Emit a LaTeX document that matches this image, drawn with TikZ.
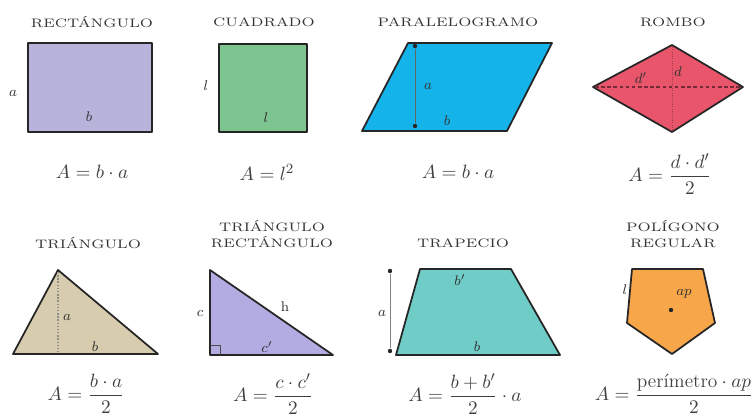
\documentclass[tikz,border=0pt]{standalone}
\usepackage{amsmath}
\usepackage{graphicx}
\definecolor{lila}{HTML}{B8B3DB}
\definecolor{verde}{HTML}{7CC590}
\definecolor{celeste}{HTML}{14B3EA}
\definecolor{rosa}{HTML}{E9566B}
\definecolor{beige}{HTML}{D8CCAE}
\definecolor{lila2}{HTML}{B3ACE3}
\definecolor{turquesa}{HTML}{70CCC7}
\definecolor{naranja}{HTML}{F7A64A}
\newcommand{\tit}[1]{\scalebox{1.22}[1]{#1}}

\begin{document}
\begin{tikzpicture}[x=0.02cm,y=-0.02cm,
  figura/.style={draw=black!85, line width=1pt, line join=round},
  titulo/.style={font=\fontsize{7}{9.5}\selectfont, text=black!80, align=center},
  formula/.style={font=\fontsize{11}{13}\selectfont, text=black!75},
  etiq/.style={font=\fontsize{8}{9}\selectfont, text=black!80, inner sep=1pt},
  punto/.style={circle, fill=black!85, inner sep=0pt, minimum size=2.5pt}]
\useasboundingbox (0,0) rectangle (751,419); % tamaño de la imagen

% fila de arriba
\node[titulo] (tRect) at (92,22) {\tit{RECTÁNGULO}};
\draw[figura, fill=lila] (28,43) rectangle (152,132);
\node[etiq] (aRect) at (13,93) {$a$};
\node[etiq] (bRect) at (89,117) {$b$};
\node[formula] (fRect) at (92,172) {$A = b \cdot a$};

\node[titulo] (tCuad) at (264,22) {\tit{CUADRADO}};
\draw[figura, fill=verde] (219,44) rectangle (307,132);
\node[etiq] (lCuad) at (206,86) {$l$};
\node[etiq] (lCuad2) at (266,118) {$l$};
\node[formula] (fCuad) at (267,172) {$A = l^2$};

\node[titulo] (tPara) at (458,22) {\tit{PARALELOGRAMO}};
\draw[figura, fill=celeste] (408,43) -- (552,43) -- (507,131) -- (362,131) -- cycle;
\node[punto] (pArr) at (415,46) {};
\node[punto] (pAbj) at (415,126) {};
\draw[black!60, line width=0.4pt] (pArr) -- (pAbj); % altura
\node[etiq] (aPara) at (428,86) {$a$};
\node[etiq] (bPara) at (447,121) {$b$};
\node[formula] (fPara) at (458,172) {$A = b \cdot a$};

\node[titulo] (tRomb) at (673,22) {\tit{ROMBO}};
\draw[figura, fill=rosa] (593,87) -- (672,45) -- (743,87) -- (672,132) -- cycle;
\draw[rosa!50!black, dashed, line width=0.8pt, dash pattern=on 2pt off 1.5pt] (595,87) -- (741,87); % diagonal
\draw[rosa!70!black, densely dotted, line width=0.3pt] (672,47) -- (672,130);
\node[etiq] (dpRomb) at (641,78) {$d'$};
\node[etiq] (dRomb) at (678,72) {$d$};
\node[formula] (fRomb) at (670,174) {$A = \dfrac{d \cdot d'}{2}$};

% fila de abajo
\node[titulo] (tTri) at (88,243) {\tit{TRIÁNGULO}};
\draw[figura, fill=beige] (58,270) -- (158,354) -- (13,354) -- cycle;
\draw[black!45, densely dotted, line width=0.8pt] (58,272) -- (58,352); % altura
\node[etiq] (aTri) at (67,317) {$a$};
\node[etiq] (bTri) at (95,347) {$b$};
\node[formula] (fTri) at (86,394) {$A = \dfrac{b \cdot a}{2}$};

\node[titulo] (tRecT) at (272,234) {\tit{TRIÁNGULO}\\\tit{RECTÁNGULO}};
\draw[figura, fill=lila2] (210,270) -- (333,355) -- (210,355) -- cycle;
\draw[black!70, line width=0.4pt] (210,345) -- (220,345) -- (220,355); % ángulo recto
\node[etiq] (cRecT) at (200,313) {$c$};
\node[etiq] (hRecT) at (285,307) {h};
\node[etiq] (cpRecT) at (267,347) {$c'$};
\node[formula] (fRecT) at (273,394) {$A = \dfrac{c \cdot c'}{2}$};

\node[titulo] (tTrap) at (463,243) {\tit{TRAPECIO}};
\draw[figura, fill=turquesa] (420,269) -- (511,269) -- (560,355) -- (396,355) -- cycle;
\node[punto] (hArr) at (390,271) {};
\node[punto] (hAbj) at (390,351) {};
\draw[black!50, line width=0.4pt] (hArr) -- (hAbj); % altura
\node[etiq] (aTrap) at (382,313) {$a$};
\node[etiq] (bpTrap) at (460,280) {$b'$};
\node[etiq] (bTrap) at (477,347) {$b$};
\node[formula] (fTrap) at (465,394) {$A = \dfrac{b + b'}{2} \cdot a$};

\node[titulo] (tPol) at (673,234) {\tit{POLÍGONO}\\\tit{REGULAR}};
\draw[figura, fill=naranja] (632,269) -- (703,269) -- (715,323) -- (672,354) -- (627,323) -- cycle;
\node[punto] (centro) at (671,310) {};
\node[etiq] (lPol) at (625,290) {$l$};
\node[etiq] (apPol) at (684,294) {$ap$};
\node[formula] (fPol) at (674,394) {$A = \dfrac{\text{perímetro} \cdot ap}{2}$};
\end{tikzpicture}
\end{document}
